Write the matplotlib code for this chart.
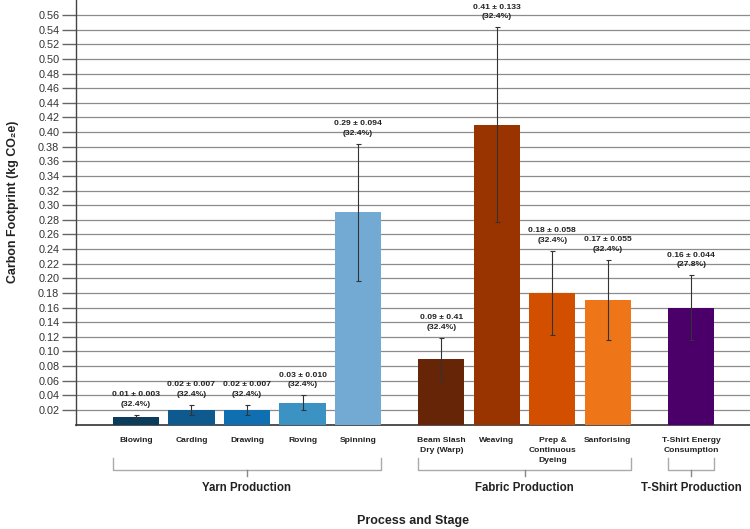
import matplotlib
matplotlib.use("Agg")
import matplotlib.pyplot as plt
import numpy as np

plt.rcParams['font.family'] = ['Liberation Sans', 'DejaVu Sans']

# data
processes = ["Blowing", "Carding", "Drawing", "Roving", "Spinning",
             "Beam Slash\nDry (Warp)", "Weaving", "Prep &\nContinuous\nDyeing", "Sanforising",
             "T-Shirt Energy\nConsumption"]
values = [0.01, 0.02, 0.02, 0.03, 0.29, 0.09, 0.41, 0.18, 0.17, 0.16]
errors = [0.003, 0.007, 0.007, 0.010, 0.094, 0.029, 0.133, 0.058, 0.055, 0.044]
value_labels = ["0.01 ± 0.003", "0.02 ± 0.007", "0.02 ± 0.007", "0.03 ± 0.010", "0.29 ± 0.094",
                "0.09 ± 0.41", "0.41 ± 0.133", "0.18 ± 0.058", "0.17 ± 0.055", "0.16 ± 0.044"]
pct_labels = ["32.4%"] * 9 + ["27.8%"]
colors = ["#0c3c5c", "#0e5a8e", "#0f6fb0", "#3b93c4", "#72aad4",
          "#662507", "#993300", "#d24f00", "#ee7518", "#4a0068"]
stages = ["Yarn Production", "Fabric Production", "T-Shirt Production"]
stage_members = [[0, 1, 2, 3, 4], [5, 6, 7, 8], [9]]

# x positions with gaps between the stages
x = np.array([0, 1, 2, 3, 4, 5.5, 6.5, 7.5, 8.5, 10])
width = 0.83

fig = plt.figure(figsize=(7.5, 5.29), dpi=100)
ax = fig.add_axes([76 / 750, 1 - 424.6 / 529, 1 - 76 / 750, 424.6 / 529])

ax.bar(x, values, width=width, color=colors, zorder=3)
ax.errorbar(x, values, yerr=errors, fmt='none', ecolor='#333333', elinewidth=0.8,
            capsize=1.8, capthick=0.8, zorder=4)

for xi, v, e, l1, l2 in zip(x, values, errors, value_labels, pct_labels):
    ax.annotate(l1 + "\n(" + l2 + ")", (xi, v + e), xytext=(0, 5), textcoords='offset points',
                ha='center', va='bottom', fontsize=6.1, fontweight='bold', color='#222222',
                linespacing=1.55)

ax.set_xlim(-1.08, 11.06)
ax.set_ylim(0, 0.5805)
ax.set_yticks(np.arange(0.02, 0.561, 0.02))
ax.set_yticklabels([f"{t:.2f}" for t in np.arange(0.02, 0.561, 0.02)])
ax.grid(axis='y', color='#8c8c8c', linewidth=0.9, zorder=0)
ax.tick_params(axis='y', length=10, width=1, color='#666666', labelsize=7.8, labelcolor='#333333', pad=2)
ax.tick_params(axis='x', length=0, labelsize=6.1, pad=9)
ax.set_xticks(x)
ax.set_xticklabels(processes, fontweight='bold', color='#222222', linespacing=1.55, va='top')

for s in ['top', 'right']:
    ax.spines[s].set_visible(False)
ax.spines['left'].set_color('#444444')
ax.spines['bottom'].set_color('#333333')
ax.spines['left'].set_linewidth(1)
ax.spines['bottom'].set_linewidth(1.2)

# brackets under each stage
tr = ax.get_xaxis_transform()
y_top, y_bot, y_tick, y_lab = -0.079, -0.108, -0.122, -0.149
for name, members in zip(stages, stage_members):
    left = x[members[0]] - width / 2
    right = x[members[-1]] + width / 2
    mid = (left + right) / 2
    ax.plot([left, left, right, right], [y_top, y_bot, y_bot, y_top], transform=tr,
            color='#aaaaaa', linewidth=1, clip_on=False)
    ax.plot([mid, mid], [y_bot, y_tick], transform=tr, color='#888888', linewidth=1, clip_on=False)
    ax.text(mid, y_lab, name, transform=tr, ha='center', va='center',
            fontsize=8.3, fontweight='bold', color='#222222')

ax.text(0.5, -(521 - 424.6) / 424.6, "Process and Stage", transform=ax.transAxes,
        ha='center', va='center', fontsize=9, fontweight='bold', color='#222222')
fig.text(13 / 750, 1 - 202 / 529, "Carbon Footprint (kg CO₂e)", rotation=90,
         ha='center', va='center', fontsize=8.9, fontweight='bold', color='#222222')

fig.savefig("out.png", dpi=100)
